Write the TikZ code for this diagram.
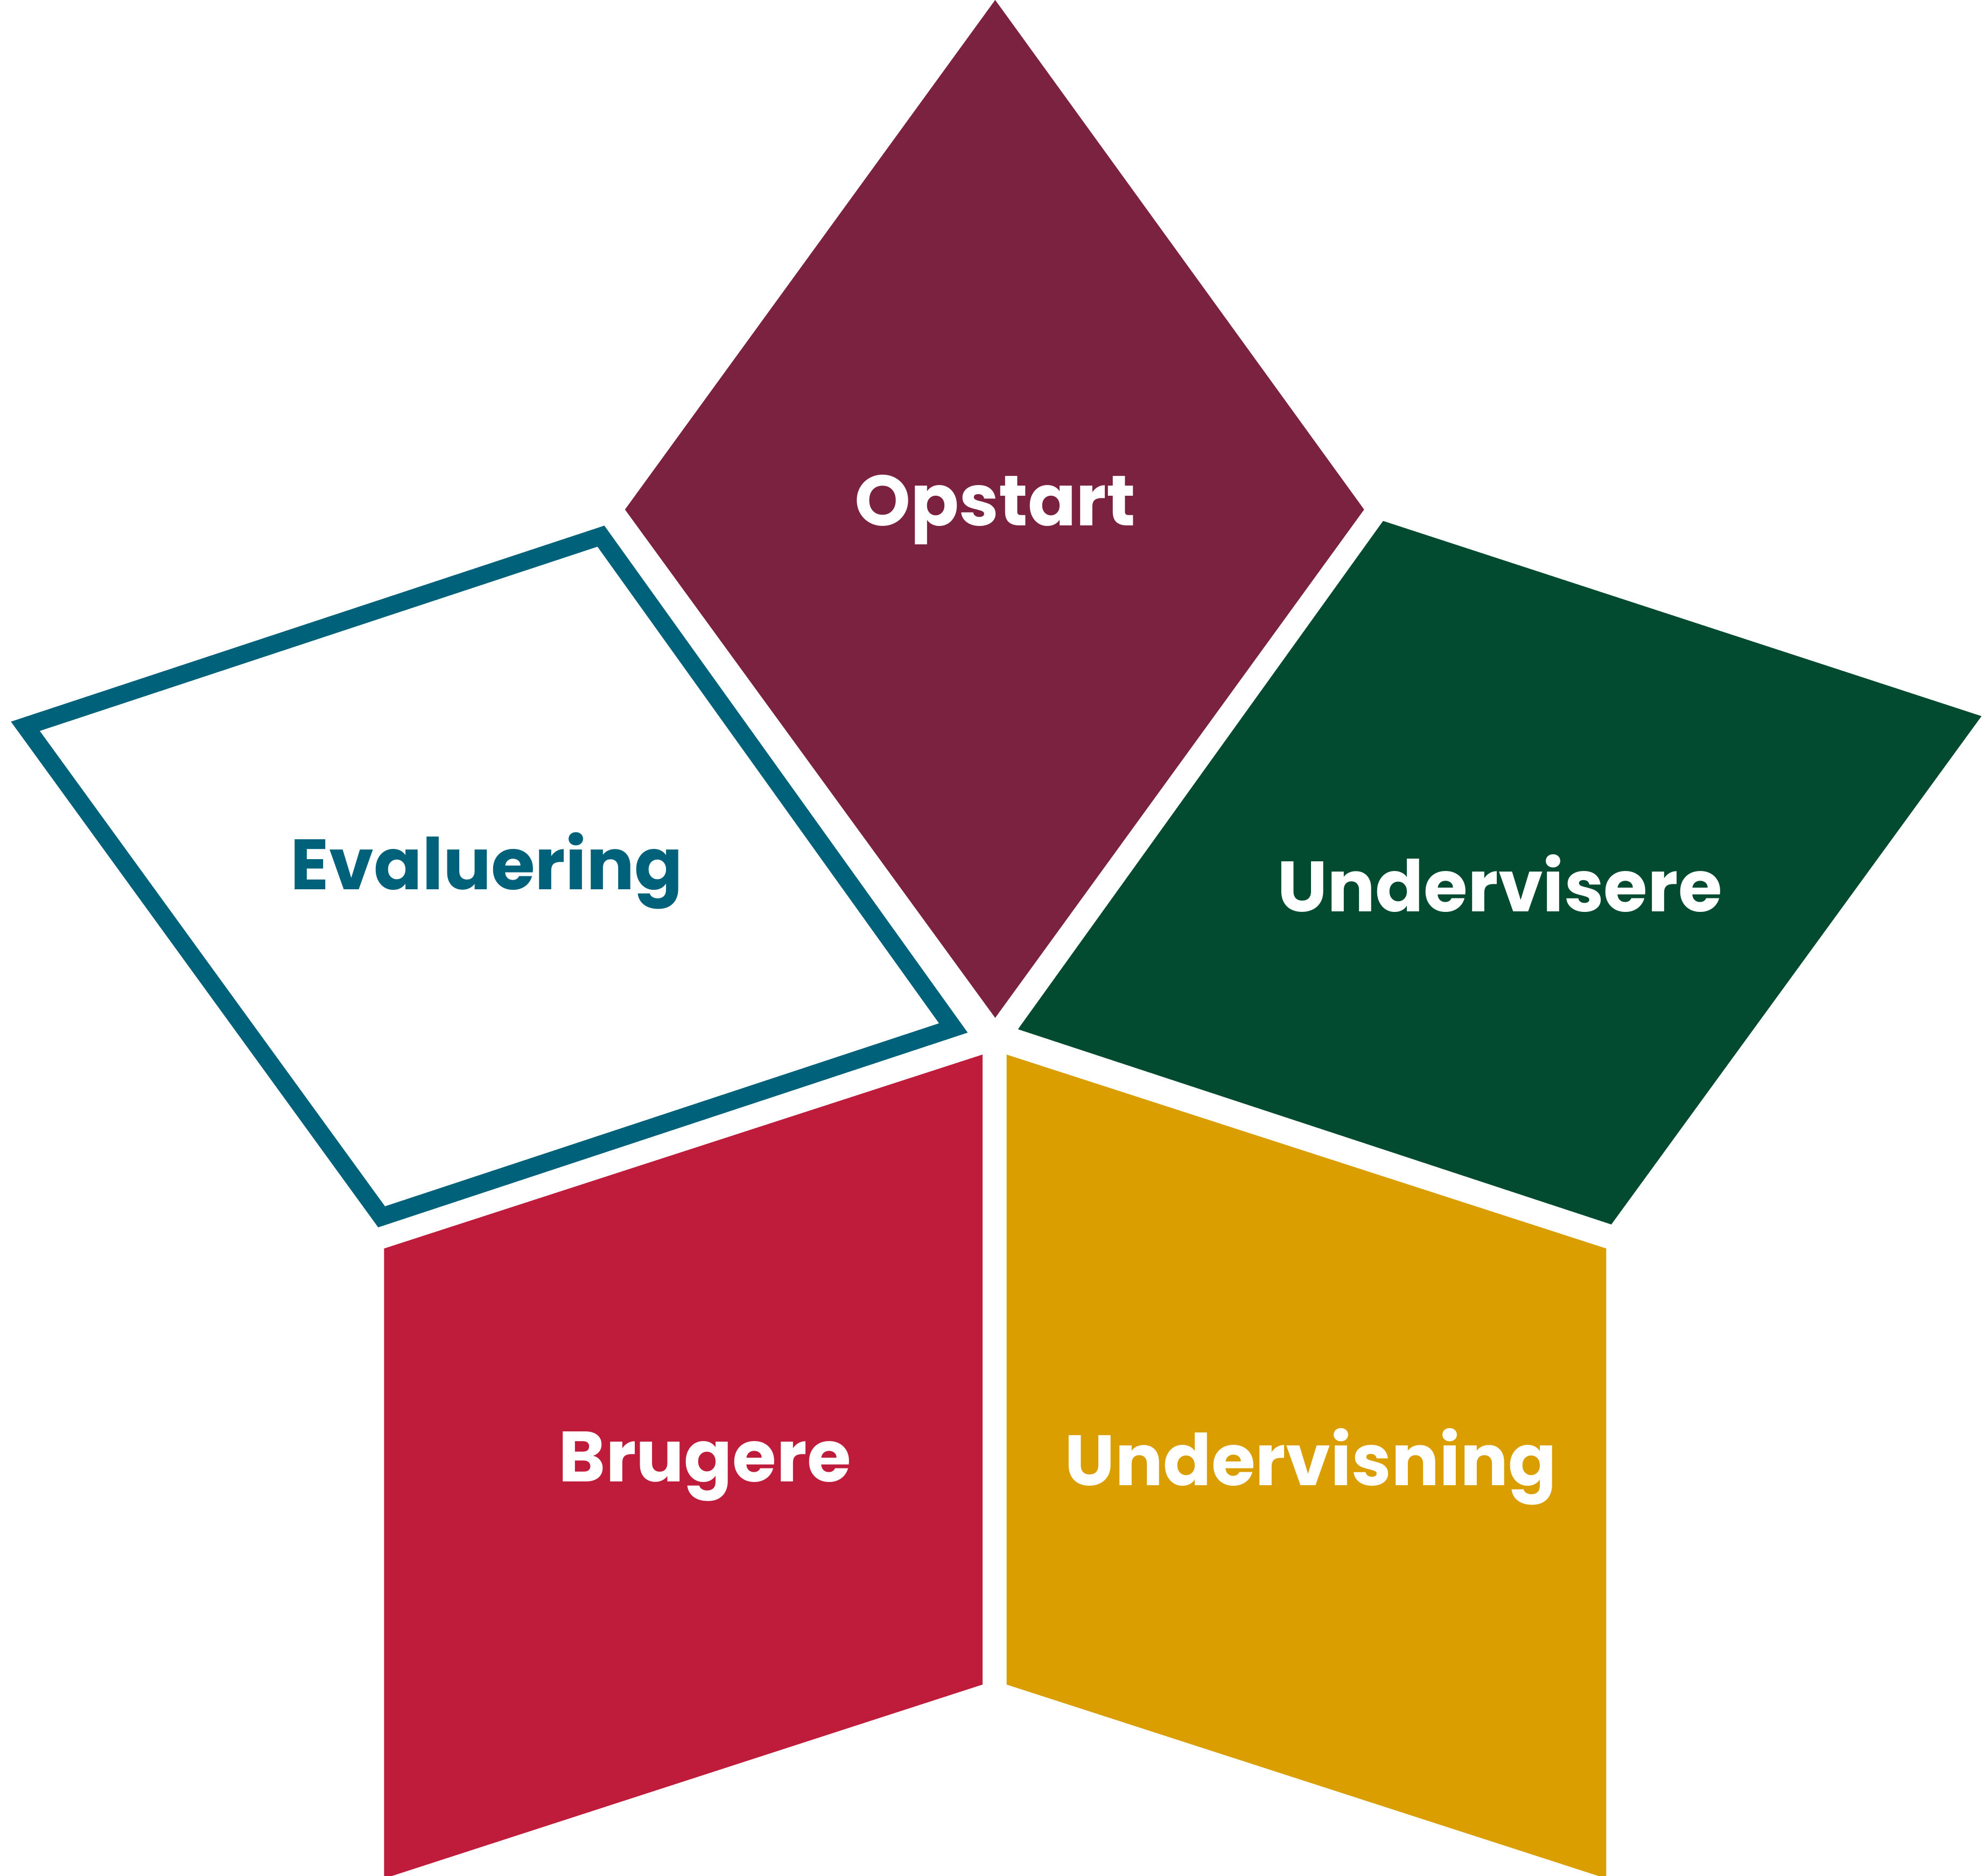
\documentclass[tikz,border=0pt]{standalone}
\usepackage{fontspec}
\setmainfont{Poppins}[BoldFont={* Bold}]
\definecolor{cOp}{HTML}{7B2240}
\definecolor{cUv}{HTML}{024B30}
\definecolor{cEv}{HTML}{00617A}
\definecolor{cBr}{HTML}{BE1C3A}
\definecolor{cUn}{HTML}{DB9E00}
\tikzset{lbl/.style={font=\fontsize{160}{190}\selectfont\bfseries, text=white}}
\begin{document}
\begin{tikzpicture}[x=0.1cm,y=-0.1cm]
\useasboundingbox (0,0) rectangle (1565,1480);
\fill[cOp] (785,0) -- (1076,402) -- (785,803) -- (493,402) -- cycle;
\fill[cUv] (1091,411) -- (1563,565) -- (1271,966) -- (803,812) -- cycle;
\draw[cEv, line width=40pt, line join=miter] (20,573) -- (474,423) -- (752,811) -- (301,960) -- cycle;
\fill[cBr] (303,985) -- (775,832) -- (775,1329) -- (303,1482) -- cycle;
\fill[cUn] (794,832) -- (1267,985) -- (1267,1482) -- (794,1329) -- cycle;
\node[lbl] (op) at (785,402) {Opstart};
\node[lbl] (uv) at (1183,697) {Undervisere};
\node[lbl, text=cEv] (ev) at (384,687) {Evaluering};
\node[lbl] (br) at (556,1157) {Brugere};
\node[lbl] (un) at (1034,1157) {Undervisning};
\end{tikzpicture}
\end{document}
